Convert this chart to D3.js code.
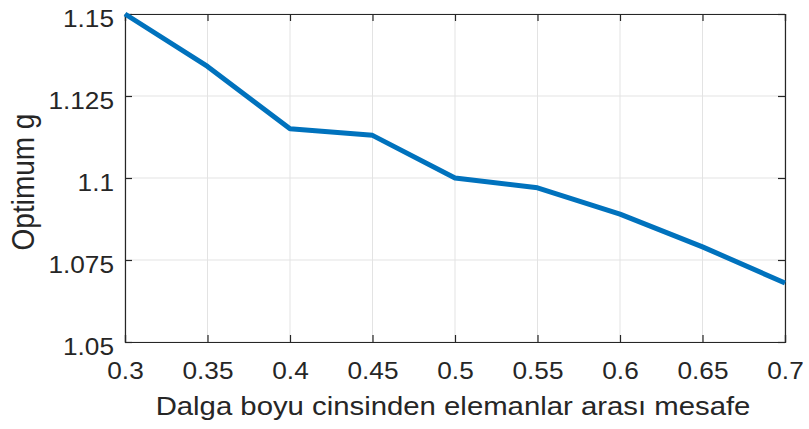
<!DOCTYPE html>
<html><head><meta charset="utf-8">
<script src="https://cdn.jsdelivr.net/npm/d3@7"></script>
<style>body{margin:0;background:#fff}svg{display:block}text{font-family:"Liberation Sans",Arial,sans-serif;fill:#262626}</style>
</head><body><svg id="c" width="809" height="429"></svg>
<script>
const xValues = [0.3, 0.35, 0.4, 0.45, 0.5, 0.55, 0.6, 0.65, 0.7];
const gValues = [1.15, 1.134, 1.115, 1.113, 1.1, 1.097, 1.089, 1.079, 1.068];
const xTicks = [0.3, 0.35, 0.4, 0.45, 0.5, 0.55, 0.6, 0.65, 0.7];
const yTicks = [1.05, 1.075, 1.1, 1.125, 1.15];
const xLabel = "Dalga boyu cinsinden elemanlar arası mesafe";
const yLabel = "Optimum g";

const L = 125, R = 785, T = 14, B = 342;
const SX = 1.14;
const svg = d3.select("#c");
const x = d3.scaleLinear().domain([0.3, 0.7]).range([L, R]);
const y = d3.scaleLinear().domain([1.05, 1.15]).range([B, T]);

// grid
svg.append("g").selectAll("line").data(xTicks).join("line")
  .attr("x1", d => x(d)).attr("x2", d => x(d)).attr("y1", T).attr("y2", B)
  .attr("stroke", "#e3e3e3").attr("stroke-width", 1);
svg.append("g").selectAll("line").data(yTicks).join("line")
  .attr("y1", d => y(d)).attr("y2", d => y(d)).attr("x1", L).attr("x2", R)
  .attr("stroke", "#e3e3e3").attr("stroke-width", 1);

// axes
const ax = svg.append("g").attr("transform", `translate(0,${B})`)
  .call(d3.axisBottom(x).tickValues(xTicks).tickSize(-7).tickFormat(d => String(+d.toFixed(2))));
const ay = svg.append("g").attr("transform", `translate(${L},0)`)
  .call(d3.axisLeft(y).tickValues(yTicks).tickSize(-7).tickFormat(d => String(+d.toFixed(3))));
const at = svg.append("g").attr("transform", `translate(0,${T})`)
  .call(d3.axisTop(x).tickValues(xTicks).tickSize(-7).tickFormat(""));
const ar = svg.append("g").attr("transform", `translate(${R},0)`)
  .call(d3.axisRight(y).tickValues(yTicks).tickSize(-7).tickFormat(""));
[ax, ay, at, ar].forEach(g => {
  g.select(".domain").attr("stroke", "#262626").attr("stroke-width", 1.2);
  g.selectAll(".tick line").attr("stroke", "#262626").attr("stroke-width", 1.2);
  g.selectAll(".tick text").attr("font-size", 23).attr("font-family", "Liberation Sans, Arial, sans-serif").attr("fill", "#262626");
});
ax.selectAll(".tick text").attr("dy", 0).attr("y", 37).attr("x", 0)
  .attr("transform", `scale(${SX},1)`);
ay.selectAll(".tick text").attr("dy", 0).attr("y", 12.5).attr("x", -11 / SX)
  .attr("transform", `scale(${SX},1)`);

// line
svg.append("path").datum(xValues.map((v, i) => [v, gValues[i]]))
  .attr("fill", "none").attr("stroke", "#0072BD").attr("stroke-width", 5)
  .attr("stroke-linejoin", "round")
  .attr("d", d3.line().x(d => x(d[0])).y(d => y(d[1])));

// labels
svg.append("text").attr("transform", `translate(453,415) scale(1.15,1)`).attr("text-anchor", "middle")
  .attr("font-size", 25.5).text(xLabel);
svg.append("text").attr("transform", `translate(34,182) scale(1.1,1) rotate(-90)`)
  .attr("text-anchor", "middle").attr("font-size", 28).text(yLabel);
</script></body></html>
